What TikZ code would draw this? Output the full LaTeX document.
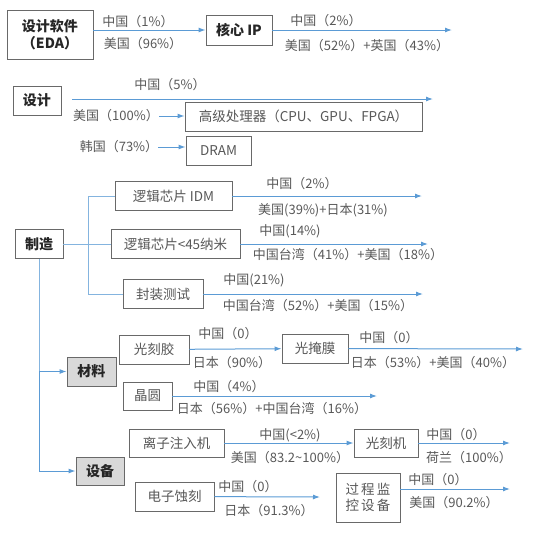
\documentclass[tikz,border=0pt]{standalone}
\usepackage{fontspec}
\setmainfont{Noto Sans CJK SC}
\usepackage{xcolor}
\usetikzlibrary{arrows.meta}

\definecolor{lineblue}{RGB}{91,155,213}
\definecolor{boxgray}{RGB}{105,105,105}
\definecolor{labgray}{RGB}{88,88,88}
\definecolor{headfill}{RGB}{217,217,217}

\tikzset{
  box/.style={draw=boxgray, line width=0.9pt, fill=white, text=labgray,
    font=\fontsize{13.5}{16}\selectfont, align=center, inner sep=0pt},
  headbox/.style={box, text=black!85, font=\fontsize{14}{17}\selectfont\bfseries},
  grayhead/.style={headbox, fill=headfill},
  lab/.style={text=labgray, font=\fontsize{13}{15}\selectfont, inner sep=0pt},
  arr/.style={draw=lineblue, line width=1pt, -{Latex[length=7pt,width=5pt]}},
  link/.style={draw=lineblue!75, line width=0.7pt},
}

\begin{document}
\begin{tikzpicture}[x=1pt,y=-1pt]
    \useasboundingbox (0,0) rectangle (542,536);
    % Design software and IP
    \node[headbox, minimum width=86, minimum height=49] (eda) at (50,34.5) {设计软件\\（EDA）};
    \node[headbox, minimum width=66, minimum height=30] (ip) at (239,30) {核心 IP};
    \coordinate (ipend) at (452,30);
    \draw[arr] (eda.east |- ip) -- (ip);
    \draw[arr] (ip) -- (ipend);
    \node[lab] (edacn) at (138,22) {中国（1\%）};
    \node[lab] (edaus) at (143,44) {美国（96\%）};
    \node[lab] (ipcn) at (326,21) {中国（2\%）};
    \node[lab] (ipus) at (367,46) {美国（52\%）+英国（43\%）};

    % Design
    \node[headbox, minimum width=48, minimum height=29] (sj) at (37,100.5) {设计};
    \coordinate (sjstart) at (72,99);
    \coordinate (sjend) at (433,99);
    \draw[arr] (sjstart) -- (sjend);
    \node[lab] (sjcn) at (170,85) {中国（5\%）};
    \node[box, minimum width=237, minimum height=29] (cpu) at (303.5,116.5) {高级处理器（CPU、GPU、FPGA）};
    \node[box, minimum width=65, minimum height=29] (dram) at (218.5,150.5) {DRAM};
    \node[lab] (us100) at (116,116) {美国（100\%）};
    \node[lab] (kr73) at (119,147) {韩国（73\%）};
    \draw[arr] (us100) -- (us100 -| cpu.west);
    \draw[arr] (kr73) -- (kr73 -| dram.west);

    % Manufacturing
    \node[headbox, minimum width=48, minimum height=29] (zz) at (39,244) {制造};
    \node[box, minimum width=117, minimum height=29] (idm) at (173.5,196) {逻辑芯片 IDM};
    \node[box, minimum width=129, minimum height=29] (l45) at (175.5,244) {逻辑芯片<45纳米};
    \node[box, minimum width=80, minimum height=29] (fz) at (163,294) {封装测试};
    \coordinate (bus) at (88,0);
    \draw[link] (zz) -- (l45);
    \draw[link] (idm.west) -- (idm.west -| bus) -- (fz.west -| bus) -- (fz.west);
    \coordinate (idmend) at (422,196);
    \coordinate (l45end) at (428,244);
    \coordinate (fzend) at (423,294);
    \draw[arr] (idm) -- (idmend);
    \draw[arr] (l45) -- (l45end);
    \draw[arr] (fz) -- (fzend);
    \node[lab] (idmcn) at (302,184) {中国（2\%）};
    \node[lab] (idmus) at (323,210) {美国(39\%)+日本(31\%)};
    \node[lab] (l45cn) at (290,231) {中国(14\%)};
    \node[lab] (l45tw) at (348,255) {中国台湾（41\%）+美国（18\%）};
    \node[lab] (fzcn) at (254,280) {中国(21\%)};
    \node[lab] (fztw) at (318,306) {中国台湾（52\%）+美国（15\%）};

    % Materials and equipment
    \node[grayhead, minimum width=49, minimum height=29] (cl) at (91.5,371.5) {材料};
    \node[grayhead, minimum width=48, minimum height=28] (sb) at (100,471) {设备};
    \draw[link] (zz.south) -- (zz.south |- cl);
    \draw[arr] (zz.south |- cl) -- (cl);
    \draw[arr] (zz.south |- cl) |- (sb);

    % Photoresist and mask
    \node[box, minimum width=70, minimum height=29] (gkj) at (154,349.5) {光刻胶};
    \node[box, minimum width=66, minimum height=29] (gym) at (315,348.5) {光掩膜};
    \coordinate (gymend) at (523,349);
    \draw[arr] (gkj) -- (gym);
    \draw[arr] (gym) -- (gymend);
    \node[lab] (gkjcn) at (228,334) {中国（0）};
    \node[lab] (gkjjp) at (232,363) {日本（90\%）};
    \node[lab] (gymcn) at (389,338) {中国（0）};
    \node[lab] (gymjp) at (433,363) {日本（53\%）+美国（40\%）};

    % Wafer
    \node[box, minimum width=49, minimum height=28] (jy) at (147.5,396) {晶圆};
    \coordinate (jyend) at (377,396);
    \draw[arr] (jy) -- (jyend);
    \node[lab] (jycn) at (229,387) {中国（4\%）};
    \node[lab] (jyjp) at (272,409) {日本（56\%）+中国台湾（16\%）};

    % Ion implanter and lithography
    \node[box, minimum width=95, minimum height=28] (lz) at (176.5,443) {离子注入机};
    \node[box, minimum width=64, minimum height=28] (gkjj) at (386,443) {光刻机};
    \coordinate (gkjjend) at (510,443);
    \draw[arr] (lz) -- (gkjj);
    \draw[arr] (gkjj) -- (gkjjend);
    \node[lab] (lzcn) at (290,435) {中国(<2\%)};
    \node[lab] (lzus) at (290,458) {美国（83.2\textasciitilde100\%）};
    \node[lab] (gkjjcn) at (456,435) {中国（0）};
    \node[lab] (gkjjnl) at (469,458) {荷兰（100\%）};

    % Etching and process control
    \node[box, minimum width=79, minimum height=29] (dz) at (174.5,496.5) {电子蚀刻};
    \node[box, minimum width=64, minimum height=49] (gc) at (368,497.5) {过\,程\,监\\控\,设\,备};
    \coordinate (dzend) at (320,497);
    \coordinate (gcend) at (510,489);
    \draw[arr] (dz) -- (dzend);
    \draw[arr] (gc.east |- gcend) -- (gcend);
    \node[lab] (dzcn) at (248,487) {中国（0）};
    \node[lab] (dzjp) at (269,511) {日本（91.3\%）};
    \node[lab] (gccn) at (438,480) {中国（0）};
    \node[lab] (gcus) at (454,503) {美国（90.2\%）};
\end{tikzpicture}
\end{document}
